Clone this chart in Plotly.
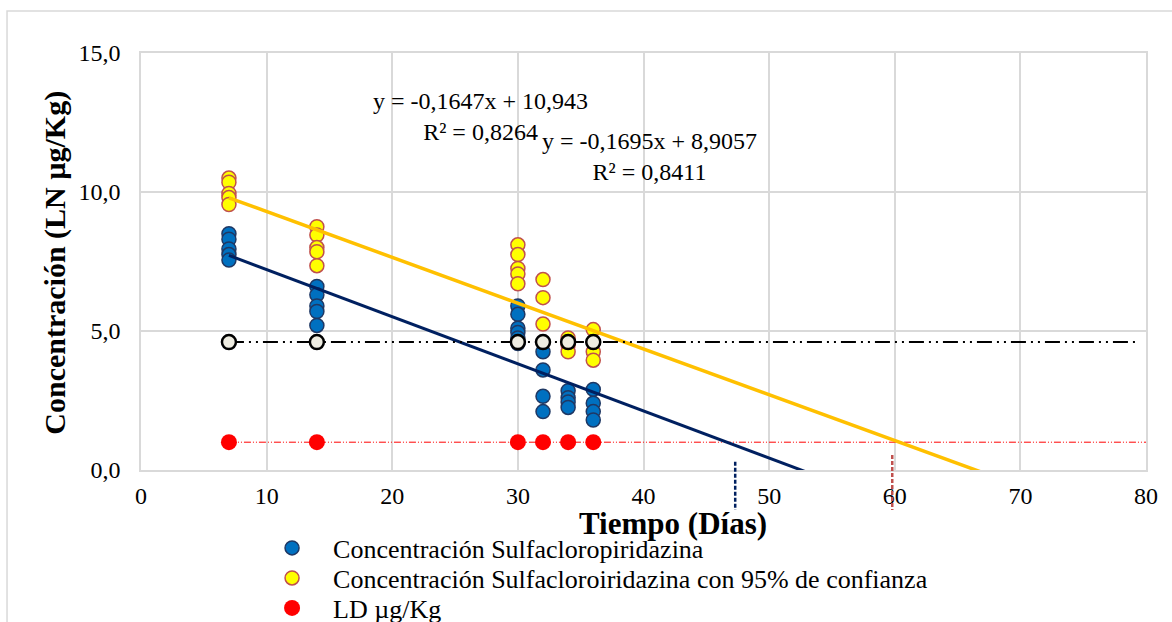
import plotly.graph_objects as go

# ---------------- data ----------------
tiempo_azul = [7]*5 + [14]*5 + [30]*6 + [32]*4 + [34]*4 + [36]*4
conc_azul = [8.5, 8.3, 7.95, 7.75, 7.55,
             6.6, 6.3, 5.9, 5.7, 5.2,
             5.9, 5.6, 5.1, 4.95, 4.75, 4.55,
             4.25, 3.6, 2.65, 2.1,
             2.85, 2.6, 2.45, 2.25,
             2.9, 2.4, 2.1, 1.8]

tiempo_amarillo = [7]*5 + [14]*5 + [30]*5 + [32]*3 + [34]*3 + [36]*4
conc_amarillo = [10.5, 10.35, 9.95, 9.8, 9.55,
                 8.75, 8.45, 8.0, 7.85, 7.35,
                 8.1, 7.75, 7.25, 7.05, 6.7,
                 6.85, 6.2, 5.25,
                 4.75, 4.5, 4.25,
                 5.05, 4.6, 4.25, 3.95]

tiempo_ld = [7, 14, 30, 32, 34, 36]
ld_valor = [1.0, 1.0, 1.0, 1.0, 1.0, 1.0]
ld_linea_x = [7, 80]
ld_linea_y = [1.0, 1.0]

tiempo_lc = [7, 14, 30, 32, 34, 36]
lc_valor = [4.6, 4.6, 4.6, 4.6, 4.6, 4.6]
lc_linea_x = [7, 79.5]
lc_linea_y = [4.6, 4.6]

# regression (trend lines)
pend_azul, inter_azul, r2_azul = -0.1695, 8.9057, 0.8411
pend_amar, inter_amar, r2_amar = -0.1647, 10.943, 0.8264
trend_x = [7, 80]

# drop lines where trends cross LD
cruce_x = [47.3, 59.8]

x_ticks = [0, 10, 20, 30, 40, 50, 60, 70, 80]
y_ticks = [0, 5, 10, 15]
y_tick_text = ["0,0", "5,0", "10,0", "15,0"]

FONT = "Liberation Serif"

fig = go.Figure()

fig.add_trace(go.Scatter(
    x=tiempo_azul, y=conc_azul, mode="markers", legend="legend",
    name="Concentración Sulfacloropiridazina",
    marker=dict(size=14, color="#0070C0", line=dict(color="#1F3864", width=1.5))))

fig.add_trace(go.Scatter(
    x=tiempo_amarillo, y=conc_amarillo, mode="markers", legend="legend2",
    name="Concentración Sulfacloroiridazina con 95% de confianza",
    marker=dict(size=14, color="#FFFF00", line=dict(color="#C0504D", width=1.5))))

fig.add_trace(go.Scatter(
    x=ld_linea_x, y=ld_linea_y, mode="lines", showlegend=False, hoverinfo="skip",
    line=dict(color="#FF0000", width=1, dash="7px,2px,1px,2px,1px,2px")))

fig.add_trace(go.Scatter(
    x=tiempo_ld, y=ld_valor, mode="markers", name="LD µg/Kg", legend="legend3",
    marker=dict(size=16, color="#FF0000", line=dict(width=0))))

fig.add_trace(go.Scatter(
    x=trend_x, y=[pend_azul*v + inter_azul for v in trend_x], mode="lines",
    showlegend=False, hoverinfo="skip", line=dict(color="#002060", width=3)))

fig.add_trace(go.Scatter(
    x=trend_x, y=[pend_amar*v + inter_amar for v in trend_x], mode="lines",
    showlegend=False, hoverinfo="skip", line=dict(color="#FFC000", width=3.5)))

fig.add_trace(go.Scatter(
    x=lc_linea_x, y=lc_linea_y, mode="lines", showlegend=False, hoverinfo="skip",
    line=dict(color="#000000", width=2, dash="15px,5px,2px,5px,2px,5px")))

fig.add_trace(go.Scatter(
    x=tiempo_lc, y=lc_valor, mode="markers", showlegend=False,
    marker=dict(size=14, color="#EEECE1", line=dict(color="#000000", width=2.5))))

# drop lines below axis
fig.add_shape(type="line", xref="x", yref="paper", x0=cruce_x[0], x1=cruce_x[0],
              y0=0.02, y1=-0.096, line=dict(color="#002060", width=2.5, dash="4px,2px"))
fig.add_shape(type="line", xref="x", yref="paper", x0=cruce_x[1], x1=cruce_x[1],
              y0=0.036, y1=-0.096, line=dict(color="#C0504D", width=2.5, dash="4px,2px"))

# outer chart border
fig.add_shape(type="rect", xref="paper", yref="paper", x0=-0.1333, x1=1.2,
              y0=-0.8, y1=1.1007, line=dict(color="#D9D9D9", width=1.5), layer="below")

fig.add_annotation(x=27.0, y=12.72, xref="x", yref="y", showarrow=False,
                   text=f"y = {pend_amar:.4f}x + {inter_amar:.3f}<br>R² = {r2_amar:.4f}".replace(".", ","),
                   font=dict(family=FONT, size=24, color="#000000"), align="center")
fig.add_annotation(x=40.5, y=11.28, xref="x", yref="y", showarrow=False,
                   text=f"y = {pend_azul:.4f}x + {inter_azul:.4f}<br>R² = {r2_azul:.4f}".replace(".", ","),
                   font=dict(family=FONT, size=24, color="#000000"), align="center")

# axis titles
fig.add_annotation(x=0.529, y=-0.128, xref="paper", yref="paper", showarrow=False,
                   xanchor="center", yanchor="middle",
                   text="<b>Tiempo (Días)</b>", font=dict(family=FONT, size=31, color="#000000"))
fig.add_annotation(x=-0.0856, y=0.497, xref="paper", yref="paper", showarrow=False,
                   xanchor="center", yanchor="middle",
                   text="<b>Concentración (LN µg/Kg)</b>", textangle=-90,
                   font=dict(family=FONT, size=30, color="#000000"))

fig.update_xaxes(range=[0, 80], tickvals=x_ticks, showgrid=True, gridcolor="#D9D9D9",
                 gridwidth=1.5, zeroline=False, showline=True, linecolor="#D9D9D9",
                 linewidth=1.5, mirror=True, ticklabelstandoff=3,
                 tickfont=dict(family=FONT, size=24, color="#000000"))
fig.update_yaxes(range=[0, 15], tickvals=y_ticks, ticktext=y_tick_text, showgrid=True,
                 gridcolor="#D9D9D9", gridwidth=1.5, zeroline=False, showline=True,
                 linecolor="#D9D9D9", linewidth=1.5, mirror=True, ticklabelstandoff=14,
                 tickfont=dict(family=FONT, size=24, color="#000000"))

leg_common = dict(x=0.1095, xanchor="left", yanchor="middle",
                  font=dict(family=FONT, size=26, color="#000000"),
                  bgcolor="rgba(0,0,0,0)", itemwidth=72, tracegroupgap=0)

fig.update_layout(
    width=1172, height=622,
    margin=dict(l=141, r=26, t=53, b=152, pad=0, autoexpand=False),
    paper_bgcolor="#FFFFFF", plot_bgcolor="#FFFFFF",
    font=dict(family=FONT, color="#000000"),
    legend=dict(y=-0.187, **leg_common),
    legend2=dict(y=-0.259, **leg_common),
    legend3=dict(y=-0.331, **leg_common),
    showlegend=True,
)

fig.write_html("out.html")
